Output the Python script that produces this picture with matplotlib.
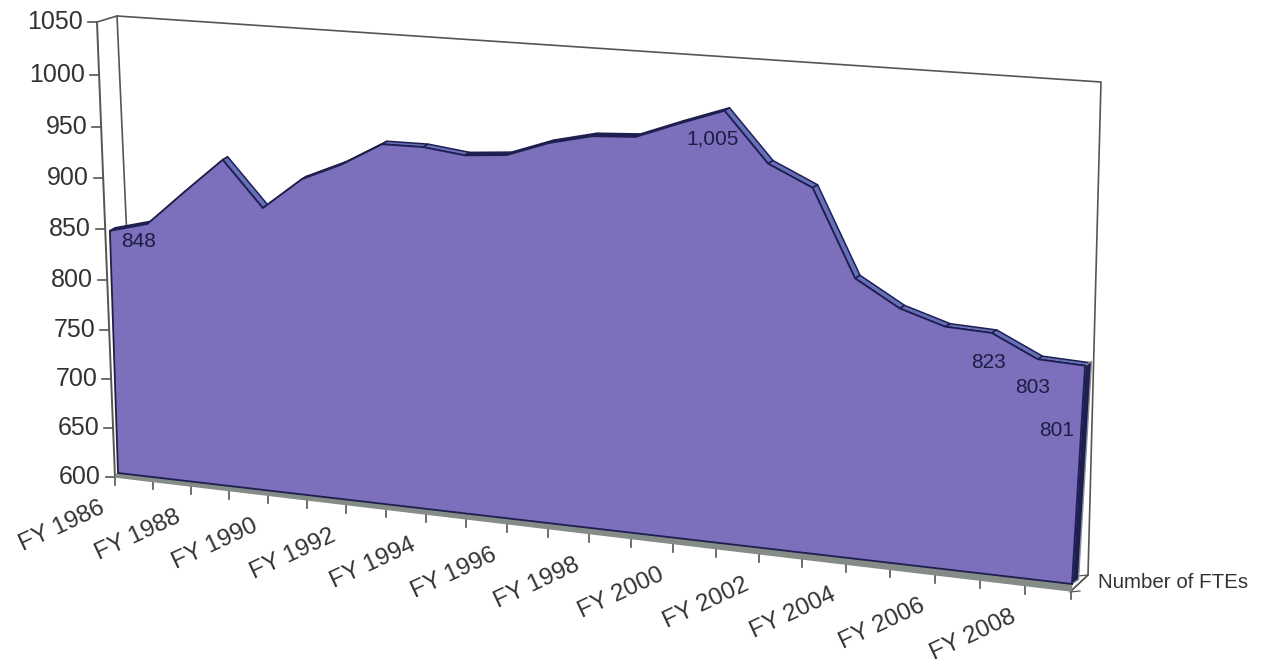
import numpy as np
import matplotlib
matplotlib.use('Agg')
import matplotlib.pyplot as plt
from matplotlib.transforms import Transform

plt.rcParams['font.family'] = ['Liberation Sans', 'DejaVu Sans']

years = list(range(1986, 2010))
ftes = [848, 858, 893, 927, 883, 914, 931, 953, 953, 948, 951, 965,
        974, 976, 991, 1005, 960, 941, 862, 838, 825, 823, 803, 801]
y_ticks = list(range(600, 1051, 50))
x_labels = ['FY %d' % y for y in years[::2]]
# labelled points: index into ftes, text, pixel shift from the point
point_labels = [(0, '848', 29, -11), (15, '1,005', -12, -28), (21, '823', -3, -30),
                (22, '803', -5, -28), (23, '801', -28, -65)]
n = len(years) - 1


class Plane(Transform):
    """Perspective map of (year index, value) onto pixels, given the 4 corners of the plane."""
    input_dims = 2
    output_dims = 2

    def __init__(self, low_l, low_r, top_l, top_r):
        super().__init__()
        src = [(0, 600), (n, 600), (0, 1050), (n, 1050)]
        dst = [low_l, low_r, top_l, top_r]
        a, b = [], []
        for (u, v), (x, y) in zip(src, dst):
            a.append([u, v, 1, 0, 0, 0, -u * x, -v * x])
            a.append([0, 0, 0, u, v, 1, -u * y, -v * y])
            b += [x, y]
        self.h = np.append(np.linalg.solve(np.array(a, float), np.array(b, float)), 1).reshape(3, 3)

    def transform_non_affine(self, values):
        values = np.asarray(values, float)
        p = np.column_stack([values, np.ones(len(values))]) @ self.h.T
        return p[:, :2] / p[:, 2:]


fig = plt.figure(figsize=(12.63, 6.66), dpi=100)
ax = fig.add_axes([0, 0, 1, 1])
ax.set_xlim(0, 1263)
ax.set_ylim(666, 0)
ax.axis('off')

area = Plane((118, 473), (1072, 584), (103, 25), (1102, 82))   # front of the area
floor = Plane((115, 477), (1071, 591), (97, 22), (1098, 90))   # axis plane
back = Plane((137, 462), (1088, 575), (117, 16), (1101, 82))   # back wall
depth = np.array([5, -3])

navy = '#1e1e50'
wall = '#555555'
txt = '#333333'
idx = np.arange(len(ftes))
top = np.column_stack([idx, ftes])
base = np.array([[n, 600], [0, 600]])

# walls
corners = back.transform([(0, 1050), (n, 1050), (n, 600)])
start = floor.transform([(0, 1050)])
end = floor.transform([(n, 600)])
wall_xy = np.vstack([start, corners, end])
ax.plot(wall_xy[:, 0], wall_xy[:, 1], color=wall, lw=1.2, zorder=1)
ax.plot(*back.transform([(0, 1050), (0, 820)]).T, color=wall, lw=1.2, zorder=1)

# left axis and value labels
ax.plot([0, 0], [600, 1050], color=wall, lw=1.4, transform=floor + ax.transData, zorder=2)
for v in y_ticks:
    x, y = floor.transform([(0, v)])[0]
    ax.plot([x - 9, x], [y, y], color=wall, lw=1.2, zorder=2)
    ax.text(x - 14, y, str(v), ha='right', va='center', fontsize=18, color=txt)

# floor strip below the area
strip = np.vstack([floor.transform([(0, 600), (n, 600)]), area.transform([(n, 600), (0, 600)])])
ax.fill(strip[:, 0], strip[:, 1], color='#858b86', zorder=3)

# bottom axis ticks and year labels
for i in range(n + 1):
    x, y = floor.transform([(i, 600)])[0]
    ax.plot([x, x], [y, y + 8], color=wall, lw=1.2, zorder=2)
for i, lab in zip(idx[::2], x_labels):
    x, y = floor.transform([(i, 600)])[0]
    ax.text(x - 11, y + 30, lab, rotation=25, rotation_mode='anchor', ha='right', va='center',
            fontsize=17.6, color=txt)

# side faces of the area, back to front
front = area.transform(top)
for i in range(n):
    q = np.array([front[i], front[i + 1], front[i + 1] + depth, front[i] + depth])
    c = navy if ftes[i + 1] > ftes[i] else '#6670b6'
    ax.fill(q[:, 0], q[:, 1], facecolor=c, edgecolor=navy, lw=1.1, zorder=4)

# right end of the area
right = area.transform([(n, ftes[-1]), (n, 600)])
q = np.vstack([right, right[::-1] + depth * [1.3, 1.5]])
ax.fill(q[:, 0], q[:, 1], facecolor=navy, edgecolor='#8b918c', lw=1.0, zorder=4)
bx, by = floor.transform([(n, 600)])[0]
ax.plot([bx + 7, bx + 17], [by - 15, by - 16], color=wall, lw=0.9, zorder=2)
ax.plot([bx - 1, bx + 9], [by + 1, by], color=wall, lw=0.9, zorder=2)
ax.plot([bx, bx + 17], [by, by - 16], color=wall, lw=0.9, zorder=2)

# front face
poly = np.vstack([top, base])
ax.fill(poly[:, 0], poly[:, 1], facecolor='#7c70bc', edgecolor=navy, lw=1.3,
        transform=area + ax.transData, zorder=5)

for i, text, dx, dy in point_labels:
    ax.annotate(text, (i, ftes[i]), xycoords=area + ax.transData, xytext=(dx, dy),
                textcoords='offset pixels', ha='center', va='center', fontsize=15,
                color='#1c1c45', zorder=6)

ax.text(bx + 27, by - 9, 'Number of FTEs', ha='left', va='center', fontsize=14.8, color=txt)

fig.savefig('out.png', dpi=100)
